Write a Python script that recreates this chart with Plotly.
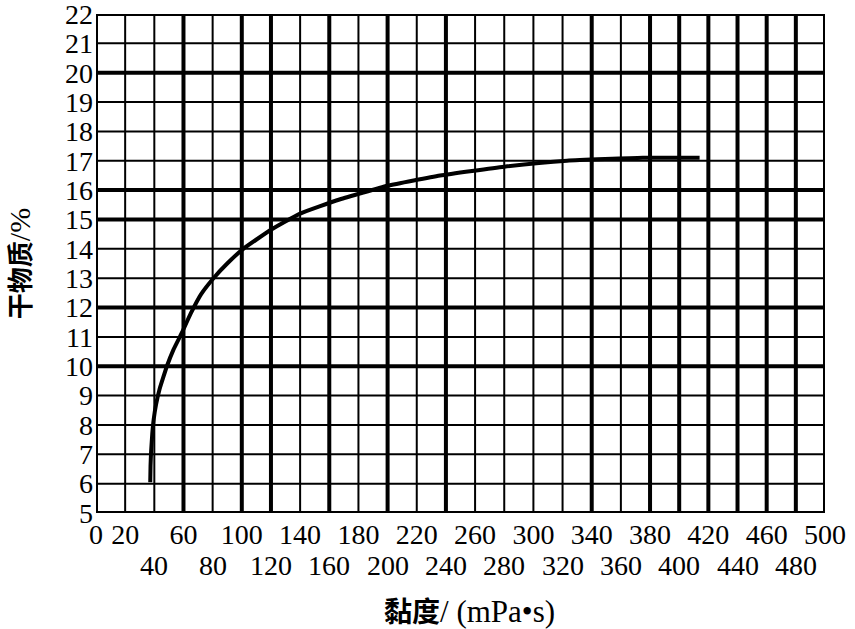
import plotly.graph_objects as go

# Curve data
viscosity = [37.2, 37.4, 37.8, 38.6, 39.6, 41.2, 43.5, 46, 48.6, 53, 59, 65, 72, 80.6, 90, 101,
             120, 140, 167, 200, 236, 280, 323, 375, 414]
dry_matter = [6.05, 6.6, 7.1, 7.7, 8.2, 8.7, 9.2, 9.6, 10.0, 10.55, 11.15, 11.8, 12.45, 13.0, 13.5, 14.0,
              14.65, 15.2, 15.68, 16.15, 16.5, 16.8, 17.0, 17.1, 17.1]

x_top_ticks = [0, 20, 60, 100, 140, 180, 220, 260, 300, 340, 380, 420, 460, 500]
x_bottom_ticks = [40, 80, 120, 160, 200, 240, 280, 320, 360, 400, 440, 480]
y_ticks = list(range(5, 23))

x_grid = list(range(0, 501, 20))
x_grid_thick = [0, 60, 100, 120, 160, 200, 240, 340, 380, 400, 420, 440, 460, 480, 500]
y_grid = list(range(5, 23))
y_grid_thick = [5, 10, 12, 15, 16, 20, 22]

SERIF = "Liberation Serif, Times New Roman, serif"
CJK = "Noto Sans CJK SC"

fig = go.Figure()
fig.add_trace(go.Scatter(x=viscosity, y=dry_matter, mode="lines",
                         line=dict(color="black", width=4, shape="spline", smoothing=0.4),
                         showlegend=False, hoverinfo="skip"))

shapes = []
for v in x_grid:
    shapes.append(dict(type="line", xref="x", yref="paper", x0=v, x1=v, y0=0, y1=1,
                       line=dict(color="black", width=4 if v in x_grid_thick else 2), layer="below"))
for v in y_grid:
    shapes.append(dict(type="line", xref="paper", yref="y", x0=0, x1=1, y0=v, y1=v,
                       line=dict(color="black", width=4 if v in y_grid_thick else 2), layer="below"))

annotations = []
for v in x_bottom_ticks:
    annotations.append(dict(x=v, xref="x", y=0, yref="paper", text=str(v), showarrow=False,
                            yshift=-52, yanchor="middle", xanchor="center",
                            font=dict(family=SERIF, size=28, color="black")))
annotations.append(dict(x=0.513, xref="paper", y=0, yref="paper", yshift=-97, yanchor="middle",
                        xanchor="center", showarrow=False,
                        text=f"<b>黏度</b><span style='font-family:{SERIF};font-size:31px'>/ (mPa•s)</span>",
                        font=dict(family=CJK, size=28, color="black")))

fig.update_layout(
    width=855, height=629,
    margin=dict(l=96, r=30, t=14, b=116),
    plot_bgcolor="white", paper_bgcolor="white",
    shapes=shapes, annotations=annotations,
    xaxis=dict(range=[0, 500], showgrid=False, zeroline=False, showline=False, automargin=False,
               tickmode="array", tickvals=x_top_ticks, ticktext=[str(v) for v in x_top_ticks],
               ticks="", ticklabelstandoff=2, ticklabeloverflow="allow",
               tickfont=dict(family=SERIF, size=28, color="black")),
    yaxis=dict(range=[5, 22], showgrid=False, zeroline=False, showline=False, automargin=False,
               tickmode="array", tickvals=y_ticks, ticktext=[str(v) for v in y_ticks],
               ticks="", ticklabelstandoff=2, ticklabeloverflow="allow",
               tickfont=dict(family=SERIF, size=28, color="black"),
               title=dict(text=f"<b>干物质</b><span style='font-family:{SERIF};font-size:30px'>/%</span>",
                          standoff=30, font=dict(family=CJK, size=26, color="black"))),
)

fig.write_html("out.html")
